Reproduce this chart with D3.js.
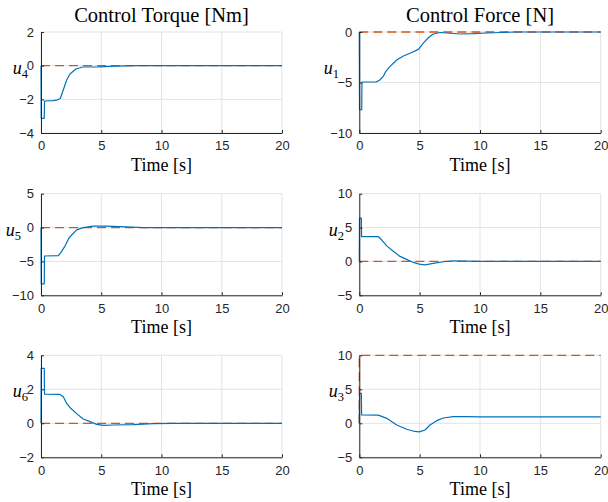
<!DOCTYPE html>
<html><head><meta charset="utf-8">
<script src="https://cdn.jsdelivr.net/npm/d3@7"></script>
<style>body{margin:0;background:#fff}svg{display:block}</style>
</head><body>
<svg id="c" width="608" height="502"></svg>
<script>
// ---- data ----
const titles = ["Control Torque [Nm]", "Control Force [N]"];
const xTicks = [0, 5, 10, 15, 20];
const yLabels = ["4", "1", "5", "2", "6", "3"];
const yDomains = [[-4, 2], [-10, 0], [-10, 5], [-5, 10], [-2, 4], [-5, 10]];
const yTicks = [[-4, -2, 0, 2], [-10, -5, 0], [-10, -5, 0, 5], [-5, 0, 5, 10], [-2, 0, 2, 4], [-5, 0, 5, 10]];

const u4 = [[0,0],[0.02,-3.13],[0.27,-3.13],[0.29,-2.1],[1.0,-2.08],[1.3,-2.05],[1.6,-1.95],[1.85,-1.45],[2.13,-0.85],[2.4,-0.5],[2.9,-0.2],[3.45,-0.08],[4.8,-0.07],[6.2,-0.03],[8,0],[20,0]];
const u1 = [[0,0],[0.02,-7.7],[0.2,-7.7],[0.22,-4.95],[1.4,-4.95],[1.7,-4.75],[2.0,-4.36],[2.2,-3.9],[2.55,-3.4],[3.1,-2.77],[3.65,-2.38],[4.2,-2.1],[4.9,-1.72],[5.3,-1.1],[5.72,-0.57],[6.13,-0.2],[6.7,-0.05],[7.25,-0.1],[8.35,-0.2],[9.45,-0.17],[10.56,-0.1],[11.7,-0.05],[13,0],[20,0]];
const u5 = [[0,0],[0.02,-8.3],[0.27,-8.3],[0.29,-4.2],[1.44,-4.15],[1.7,-3.56],[2.0,-2.7],[2.3,-1.6],[2.55,-1.1],[2.96,-0.35],[3.5,0],[4.3,0.2],[5.4,0.2],[7.1,0.1],[8.5,0],[20,0]];
const u2 = [[0,0],[0.02,6.4],[0.17,6.4],[0.19,3.67],[1.58,3.65],[1.85,3.2],[2.27,2.3],[2.82,1.5],[3.37,0.74],[3.92,0.3],[4.47,-0.15],[4.97,-0.4],[5.44,-0.5],[6.13,-0.3],[6.96,-0.05],[7.79,0.1],[8.9,0.05],[10,0],[20,0]];
const u6 = [[0,0],[0.02,3.23],[0.27,3.23],[0.29,1.72],[1.57,1.7],[1.85,1.56],[2.13,1.17],[2.4,0.93],[2.96,0.57],[3.5,0.25],[4.07,0.1],[4.62,-0.06],[5.17,-0.12],[6.0,-0.1],[7.66,-0.08],[9.3,-0.02],[11,0],[20,0]];
const u3 = [[0,0],[0.02,4.4],[0.17,4.4],[0.19,1.22],[1.58,1.2],[2.27,0.73],[3.1,-0.25],[3.92,-0.88],[4.6,-1.2],[4.97,-1.27],[5.44,-0.98],[5.86,-0.25],[6.41,0.39],[6.96,0.78],[7.79,0.98],[8.9,0.98],[10,0.94],[20,0.94]];
const series = [u4, u1, u5, u2, u6, u3];

const ref0 = [[0,0],[20,0]];
const ref10 = [[0,0],[0,10],[20,10]];
const refs = [ref0, ref0, ref0, ref0, ref0, ref10];

// ---- layout ----
const colX = [[41, 282], [359.3, 600.7]];
const rowY = [[32, 133], [193.7, 295.3], [355.3, 457.3]];
const labelRight = [28, 339, 21, 344, 28, 344];

const svg = d3.select("#c");
const serif = "'Liberation Serif','Times New Roman',serif";
const sans = "'Liberation Sans',Arial,Helvetica,sans-serif";

series.forEach((data, i) => {
  const col = i % 2, row = Math.floor(i / 2);
  const [xa, xb] = colX[col], [ya, yb] = rowY[row];
  const x = d3.scaleLinear().domain([0, 20]).range([xa, xb]);
  const y = d3.scaleLinear().domain(yDomains[i]).range([yb, ya]);
  const g = svg.append("g");

  // grid
  g.selectAll(".gx").data(xTicks).join("line")
    .attr("x1", d => x(d)).attr("x2", d => x(d)).attr("y1", ya).attr("y2", yb)
    .attr("stroke", "#e3e3e3").attr("stroke-width", 1);
  g.selectAll(".gy").data(yTicks[i]).join("line")
    .attr("y1", d => y(d)).attr("y2", d => y(d)).attr("x1", xa).attr("x2", xb)
    .attr("stroke", "#e3e3e3").attr("stroke-width", 1);

  // reference dashed
  const line = d3.line().x(d => x(d[0])).y(d => y(d[1]));
  g.append("path").datum(refs[i]).attr("d", line)
    .attr("fill", "none").attr("stroke", "#D95319").attr("stroke-width", 1.3)
    .attr("stroke-dasharray", "9,5");
  // signal
  g.append("path").datum(data).attr("d", line)
    .attr("fill", "none").attr("stroke", "#0072BD").attr("stroke-width", 1.2)
    .attr("stroke-linejoin", "round");

  // axes
  const fmt = d3.format("d");
  const xAxis = d3.axisBottom(x).tickValues(xTicks).tickFormat(fmt).tickSizeInner(-3).tickSizeOuter(0).tickPadding(8);
  const gx = g.append("g").attr("transform", `translate(0,${yb})`).call(xAxis);
  const yAxis = d3.axisLeft(y).tickValues(yTicks[i]).tickFormat(fmt).tickSizeInner(-3).tickSizeOuter(0).tickPadding(7);
  const gy = g.append("g").attr("transform", `translate(${xa},0)`).call(yAxis);
  [gx, gy].forEach(a => {
    a.select(".domain").attr("stroke", "#262626").attr("stroke-width", 1);
    a.selectAll(".tick line").attr("stroke", "#262626");
    a.selectAll("text").attr("fill", "#262626").style("font-family", sans).style("font-size", "13px");
  });

  // x label
  g.append("text").attr("x", (xa + xb) / 2).attr("y", yb + 38)
    .attr("text-anchor", "middle").style("font-family", serif).style("font-size", "18px")
    .attr("fill", "#000").text("Time [s]");

  // y label
  const yl = g.append("text").attr("x", labelRight[i]).attr("y", (ya + yb) / 2 - 9)
    .attr("text-anchor", "end").style("font-family", serif).attr("fill", "#000");
  yl.append("tspan").style("font-style", "italic").style("font-size", "18px").text("u");
  yl.append("tspan").attr("dy", 4).style("font-size", "12.5px").text(yLabels[i]);

  // titles
  if (row === 0) {
    g.append("text").attr("x", (xa + xb) / 2).attr("y", ya - 10)
      .attr("text-anchor", "middle").style("font-family", serif).style("font-size", "20.5px")
      .attr("fill", "#000").text(titles[col]);
  }
});
</script>
</body></html>
